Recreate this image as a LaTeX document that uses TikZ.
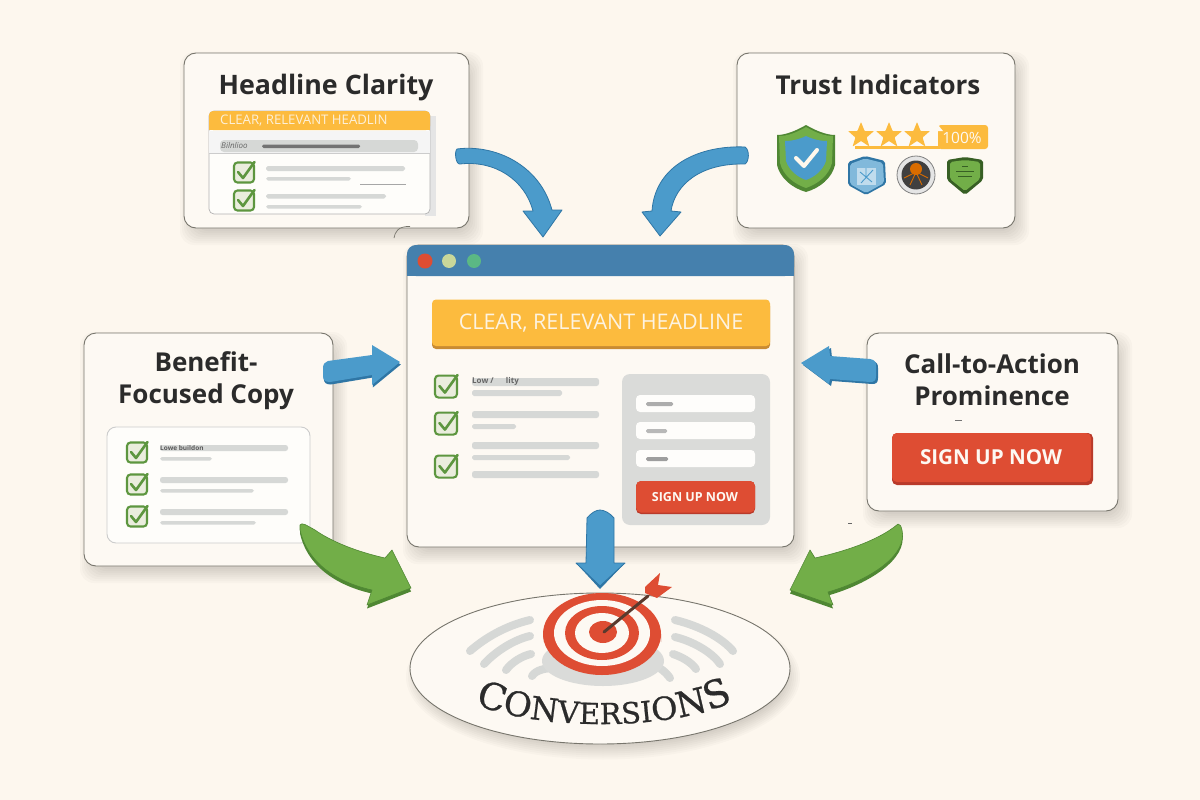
\documentclass[tikz,border=0pt]{standalone}
\usepackage{fontspec}
\setmainfont{Open Sans}
\newfontfamily\serifc[FakeBold=.7]{DejaVu Serif}
\usetikzlibrary{decorations.text,calc}
\definecolor{bgc}{HTML}{FDF7EE}
\definecolor{card}{HTML}{FDF9F3}
\definecolor{edgec}{HTML}{77756C}
\definecolor{ink}{HTML}{2B2B2B}
\definecolor{blueA}{HTML}{4B9BCB}
\definecolor{blueD}{HTML}{2F76A5}
\definecolor{barB}{HTML}{4580AD}
\definecolor{greenA}{HTML}{72AE48}
\definecolor{greenD}{HTML}{4F8733}
\definecolor{yel}{HTML}{FCBB3E}
\definecolor{yelD}{HTML}{C98B32}
\definecolor{redA}{HTML}{DE4D33}
\definecolor{redD}{HTML}{B93A2A}
\definecolor{barG}{HTML}{D6D8D6}
\definecolor{panelG}{HTML}{DADBD9}
\definecolor{chk}{HTML}{5D963F}
\definecolor{dotY}{HTML}{C9D79A}
\definecolor{dotG}{HTML}{5BB884}
\definecolor{shaft}{HTML}{5A3A2E}
\tikzset{
 x=1pt,y=-1pt,
 cardbox/.style={draw=edgec,line width=.9pt,fill=card,rounded corners=12pt},
 title/.style={font=\fontsize{26}{32}\selectfont\bfseries\color{ink},align=center,inner sep=0pt},
 barl/.style={fill=barG,rounded corners=2.5pt},
 barbt/.style={fill=barG,rounded corners=1.8pt},
 arrb/.style={fill=blueA,draw=blueD,line width=.8pt,line join=round},
 arrg/.style={fill=greenA,draw=greenD,line width=.6pt,line join=round},
 cbox/.style={draw=chk,fill=chk!12!card,line width=2.1pt,rounded corners=3.5pt},
 ctick/.style={draw=chk,line width=2.6pt,line cap=round,line join=round},
}
\newcommand{\chkmark}[3][1]{%
 \begin{scope}[shift={(#2,#3)},scale=#1]
 \draw[cbox] (-10,-9.5) rectangle (10,10.5);
 \draw[ctick] (-6,0) -- (-1,6) -- (10.5,-10);
 \end{scope}}
\newcommand{\ystar}[2]{%
 \fill[yel,rounded corners=.6pt] (#1,#2-13) -- (#1+3.6,#2-4) -- (#1+13,#2-4) -- (#1+5.6,#2+2.5) -- (#1+8.4,#2+11.5) -- (#1,#2+6) -- (#1-8.4,#2+11.5) -- (#1-5.6,#2+2.5) -- (#1-13,#2-4) -- (#1-3.6,#2-4) -- cycle;}
\newcommand{\softrect}[4]{%
 \foreach \e in {9,7,...,-5}{\fill[black,opacity=.02,rounded corners=14pt] (#1+5-\e,#2+8-\e) rectangle (#3+5+\e,#4+8+\e);}}
\newcommand{\cf}[1]{\fontsize{#1}{40}\serifc\color{ink}}
\begin{document}
\begin{tikzpicture}
\useasboundingbox (0,0) rectangle (1200,800);
\fill[bgc] (0,0) rectangle (1200,800);

% ---------- cards
\softrect{184}{53}{469}{228}
\softrect{737}{53}{1015}{228}
\softrect{84}{333}{333}{566}
\softrect{867}{333}{1118}{511}
\draw[cardbox] (184,53) rectangle (469,228);
\draw[cardbox] (737,53) rectangle (1015,228);
\draw[cardbox] (84,333) rectangle (333,566);
\draw[cardbox] (867,333) rectangle (1118,511);
\draw[edgec,line width=.7pt] (394,238) .. controls (395,232) and (398,226) .. (410,226.5);

\node[title,font=\fontsize{26.8}{32}\selectfont\bfseries\color{ink},anchor=base] (t1) at (326,95) {Headline Clarity};
\node[title,anchor=base] (t2) at (878,95) {Trust Indicators};
\node[title] (t3) at (206,381) {Benefit-\\Focused Copy};
\node[title] (t4) at (992,379.5) {Call-to-Action\\Prominence};

% ---------- headline clarity mock
\fill[black!10] (425,116) rectangle (436,216);
\draw[fill=white!60!card,draw=black!30,line width=.7pt,rounded corners=5pt] (209,111) rectangle (430,214);
\fill[yel,rounded corners=4pt] (209,111) -- (430,111) -- (430,130) -- (209,130) -- cycle;
\fill[yel] (209,120) rectangle (430,130);
\node[font=\fontsize{13.2}{15}\selectfont\color{card!85!yel},anchor=west,inner sep=0pt] (s1) at (220,121) {CLEAR, RELEVANT HEADLIN};
\fill[black!4] (209,131) rectangle (430,153);
\draw[black!20,line width=.6pt] (209,153) -- (430,153);
\fill[barG,rounded corners=4pt] (220,140) rectangle (418,152);
\fill[black!55,rounded corners=1.5pt] (262,144.5) rectangle (360,148);
\node[font=\fontsize{8}{9}\selectfont\color{black!60},anchor=west,inner sep=0pt] (s2) at (221,145.5) {\textit{Bilnlioo}};
\chkmark{244}{172}
\chkmark{244}{200}
\fill[barbt] (266,166) rectangle (405,171);
\fill[barbt] (266,177) rectangle (351,180.5);
\fill[black!35] (360,184) rectangle (406,185.2);
\fill[barbt] (266,194) rectangle (386,198.5);
\fill[barbt] (266,205) rectangle (362,208.5);

% ---------- trust indicators
\fill[greenD] (806,125) .. controls (818,132) and (828,135) .. (835,135) -- (835,165) .. controls (832,178) and (820,188) .. (806,192) .. controls (792,188) and (780,178) .. (777,165) -- (777,135) .. controls (784,135) and (794,132) .. (806,125) -- cycle;
\fill[greenA] (806,127) .. controls (818,134) and (826,136) .. (833,136) -- (832,163) .. controls (829,175) and (818,184) .. (806,188) .. controls (794,184) and (783,175) .. (780,163) -- (779,136) .. controls (786,136) and (794,134) .. (806,127) -- cycle;
\fill[blueA] (806,136) .. controls (814,140) and (822,141) .. (827,141) -- (826,161) .. controls (823,170) and (815,177) .. (806,180) .. controls (797,177) and (789,170) .. (786,161) -- (785,141) .. controls (790,141) and (798,140) .. (806,136) -- cycle;
\draw[white!90!yel,line width=4pt,line cap=round,line join=round] (796,158) -- (804,166) -- (817,150);
\fill[yel,rounded corners=3pt] (938,125) rectangle (988,149);
\fill[yel] (855,146) rectangle (940,149);
\ystar{861}{135}
\ystar{889}{135}
\fill[card] (934,131) -- (943,131) -- (938,125) -- cycle;
\ystar{917}{135}
\node[font=\fontsize{15.5}{18}\selectfont\color{card},inner sep=0pt] (pc) at (962,138) {100\%};
% badges
\fill[blueD,rounded corners=2pt] (865,156) -- (885,161) -- (886,184) -- (866,195) -- (848,185) -- (848,162) -- cycle;
\fill[blueA!70!white,rounded corners=2pt] (865,158.5) -- (883,163) -- (884,183) -- (866,193) -- (850,184) -- (850,164) -- cycle;
\fill[white!65!blueA] (857,168) rectangle (876,185);
\draw[blueA,line width=.9pt] (860,172) -- (872,182) (873,170) -- (861,183) (866,168) -- (866,178);
\draw[black!50,fill=white!90!black,line width=.8pt] (916,175) circle (19);
\fill[black!75] (916,175) circle (14.5);
\fill[orange!85!black] (916,169) circle (6);
\draw[orange!85!black,line width=.9pt] (904,178) -- (916,172) -- (928,178) (910,185) -- (916,172) -- (922,185);
\fill[greenD!70!black,rounded corners=2pt] (947,160) -- (965,157) -- (983,160) -- (983,180) -- (965,195) -- (947,180) -- cycle;
\fill[greenA,rounded corners=2pt] (950,162) -- (965,160) -- (980,162) -- (980,179) -- (965,191) -- (950,179) -- cycle;
\draw[greenD!70!black,line width=.8pt] (956,171) -- (974,171) (958,176) -- (972,176) (962,166) -- (968,166);

% ---------- central browser
\softrect{407}{245}{794}{547}
\draw[cardbox] (407,245) rectangle (794,547);
\fill[barB,rounded corners=9pt] (407,245) -- (794,245) -- (794,276) -- (407,276) -- cycle;
\fill[barB] (407,262) rectangle (794,276);
\fill[redA] (425,261) circle (7.5);
\fill[dotY] (449,261) circle (7);
\fill[dotG] (474,261) circle (7);
\fill[yelD,rounded corners=4pt] (432,302) rectangle (770,349);
\fill[yel,rounded corners=4pt] (432,299.5) rectangle (770,346);
\node[font=\fontsize{21.5}{24}\selectfont\color{card!90!yel},inner sep=0pt] (h) at (601,323) {CLEAR, RELEVANT HEADLINE};
\chkmark[1.1]{446}{386}
\chkmark[1.1]{446}{423}
\chkmark[1.1]{446}{466}
\fill[barl] (472,378) rectangle (599,386);
\node[font=\fontsize{8}{9}\selectfont\color{black!60},anchor=west,inner sep=0pt] (lw) at (472,381.5) {\textbf{Low / \quad\ lity}};
\fill[barbt] (472,390) rectangle (562,396);
\fill[barl] (472,411) rectangle (599,418);
\fill[barbt] (472,424) rectangle (516,429);
\fill[barl] (472,442) rectangle (599,449);
\fill[barbt] (472,455) rectangle (570,460);
\fill[barl] (472,471) rectangle (599,478);
\fill[panelG,rounded corners=8pt] (622,374) rectangle (770,525);
\fill[white!70!card,rounded corners=4pt] (636,395) rectangle (755,412);
\fill[white!70!card,rounded corners=4pt] (636,422) rectangle (755,439);
\fill[white!70!card,rounded corners=4pt] (636,450) rectangle (755,467);
\fill[black!32,rounded corners=1.5pt] (646,402) rectangle (673,406);
\fill[black!28,rounded corners=1.5pt] (646,429) rectangle (667,433);
\fill[black!38,rounded corners=1.5pt] (646,457) rectangle (668,461);
\fill[redD,rounded corners=5pt] (636,481) rectangle (755,514);
\fill[redA,rounded corners=5pt] (636,481) rectangle (755,512.5);
\node[font=\fontsize{12.5}{15}\selectfont\bfseries\color{card},inner sep=0pt] (cta) at (695,497) {SIGN UP NOW};

% ---------- benefit card contents
\draw[fill=white!60!card,draw=black!20,line width=.9pt,rounded corners=9pt] (107,427) rectangle (310,543);
\chkmark{137}{452}
\chkmark{137}{484}
\chkmark{137}{516}
\fill[barl] (160,445) rectangle (288,451);
\node[font=\fontsize{6.5}{8}\selectfont\color{black!65},anchor=west,inner sep=0pt] (lb) at (160,448) {\textbf{Lowe buildon}};
\fill[barbt] (160,457) rectangle (212,460.5);
\fill[barl] (160,477) rectangle (288,483);
\fill[barbt] (160,489) rectangle (254,492.5);
\fill[barl] (160,509) rectangle (288,515);
\fill[barbt] (160,521) rectangle (256,524.5);

% ---------- CTA card
\fill[black!55] (955,419.5) rectangle (962,420.5);
\fill[black!60] (848,522.5) rectangle (852,524);
\fill[redD,rounded corners=5pt] (892,433) rectangle (1093,485);
\fill[redA,rounded corners=5pt] (892,433) rectangle (1091,482);
\node[font=\fontsize{20.6}{24}\selectfont\bfseries\color{card},inner sep=0pt] (c2) at (991,457) {SIGN UP NOW};

% ---------- conversion ellipse
\foreach \e in {7,5,...,-7}{\fill[black,opacity=.018] (603,677) ellipse ({190+\e} and {75.5+\e});}
\path[draw=edgec,line width=.9pt,fill=card] (600,668.5) ellipse (190 and 75.5);
\begin{scope}[draw=barG,line cap=round,line width=8pt]
 \draw (470,651) .. controls (485,638) and (505,626) .. (530,620);
 \draw (484,664) .. controls (495,652) and (513,640) .. (530,636);
 \draw (506,670) .. controls (512,662) and (522,656) .. (531,654);
 \draw (532,676) .. controls (536,670) and (545,668) .. (555,668);
 \draw (675,620) .. controls (700,626) and (722,638) .. (733,651);
 \draw (675,637) .. controls (692,641) and (712,652) .. (720,664);
 \draw (673,654) .. controls (682,657) and (691,662) .. (696,669);
 \draw (661,669) .. controls (664,671) and (668,675) .. (670,678);
\end{scope}
\fill[panelG] (603,661) ellipse (61 and 25);
\fill[redD] (543,634) -- (543,642) arc[start angle=180,end angle=360,x radius=59,y radius=41.5] -- (661,634) -- cycle;
\fill[redA] (602,634) ellipse (59 and 41);
\fill[card] (602,633) ellipse (48 and 33);
\fill[redA] (602,633) ellipse (37 and 27);
\fill[card] (602,633) ellipse (27 and 20);
\fill[redA] (603,632) ellipse (14 and 11);
\draw[shaft,line width=3pt,line cap=round] (604,632) -- (648,596);
\fill[redA] (645,587) -- (660,573) -- (658,585) -- (672,587) -- (657,598) -- (645,593) -- cycle;
\path[decorate,decoration={text along path,text align=center,
   text={|\cf{37}|C|||\cf{34}|O|||\cf{32}|N|||\cf{30}|V|||\cf{29}|E|||\cf{29}|R|||\cf{29}|S|||\cf{29}|I|||\cf{32}|O|||\cf{35}|N|||\cf{38}|S}}]
   (470,702) .. controls (530,730) and (670,734) .. (738,699);

% ---------- arrows
\draw[arrb] (457,149) .. controls (495,144) and (540,165) .. (552,210) -- (562,210) -- (543,237) -- (523,211) -- (533,211) .. controls (525,180) and (495,160) .. (460,164) .. controls (456,165) and (454,152) .. (457,149) -- cycle;
\draw[arrb] (745,147) .. controls (700,145) and (655,165) .. (652,211) -- (642,212) -- (660,236) -- (681,212) -- (671,211) .. controls (675,185) and (700,163) .. (745,164) .. controls (749,162) and (750,150) .. (745,147) -- cycle;
% left arrow with thick underside
\fill[blueD,shift={(.8,2.5)}] (323,368) .. controls (323,364) and (325,362) .. (328,361) -- (372,355) -- (372,345) -- (400,362) -- (372,385) -- (372,375) -- (330,382) .. controls (325,382) and (323,380) .. (323,376) -- cycle;
\fill[blueA] (323,368) .. controls (323,364) and (325,362) .. (328,361) -- (372,355) -- (372,345) -- (400,362) -- (372,385) -- (372,375) -- (330,382) .. controls (325,382) and (323,380) .. (323,376) -- cycle;
% right arrow with thick underside
\fill[blueD,shift={(2,2)}] (801,363) -- (829,346) -- (830,356) -- (870,359) .. controls (875,360) and (876,362) .. (876,366) -- (876,376) .. controls (876,381) and (874,382) .. (870,382) -- (830,379) -- (829,384) -- cycle;
\fill[blueA] (801,363) -- (829,346) -- (830,356) -- (870,359) .. controls (875,360) and (876,362) .. (876,366) -- (876,376) .. controls (876,381) and (874,382) .. (870,382) -- (830,379) -- (829,384) -- cycle;
% down arrow
\fill[blueD] (576,563) -- (600,589) -- (625,563) -- cycle;
\draw[arrb] (587,518) .. controls (591,513) and (596,510) .. (600,510) .. controls (604,510) and (610,513) .. (614,518) -- (614,563) -- (625,563) -- (600,586) -- (576,563) -- (586,563) -- cycle;
% green arrows
\fill[greenD,shift={(0,3.5)}] (300,525) .. controls (302,522) and (306,525) .. (315,530) .. controls (332,542) and (358,552) .. (385,558) -- (392,550) -- (411,588) -- (367,605) -- (372,590) .. controls (340,583) and (308,565) .. (300,530) -- cycle;
\draw[arrg] (300,525) .. controls (302,522) and (306,525) .. (315,530) .. controls (332,542) and (358,552) .. (385,558) -- (392,550) -- (411,588) -- (367,605) -- (372,590) .. controls (340,583) and (308,565) .. (300,530) -- cycle;
\fill[greenD,shift={(0,3.5)}] (898,524) .. controls (885,535) and (860,548) .. (815,558) -- (810,550) -- (790,590) -- (833,605) -- (828,592) .. controls (870,580) and (908,555) .. (902,530) -- cycle;
\draw[arrg] (898,524) .. controls (885,535) and (860,548) .. (815,558) -- (810,550) -- (790,590) -- (833,605) -- (828,592) .. controls (870,580) and (908,555) .. (902,530) .. controls (901,526) and (900,524) .. (898,524) -- cycle;
\end{tikzpicture}
\end{document}
